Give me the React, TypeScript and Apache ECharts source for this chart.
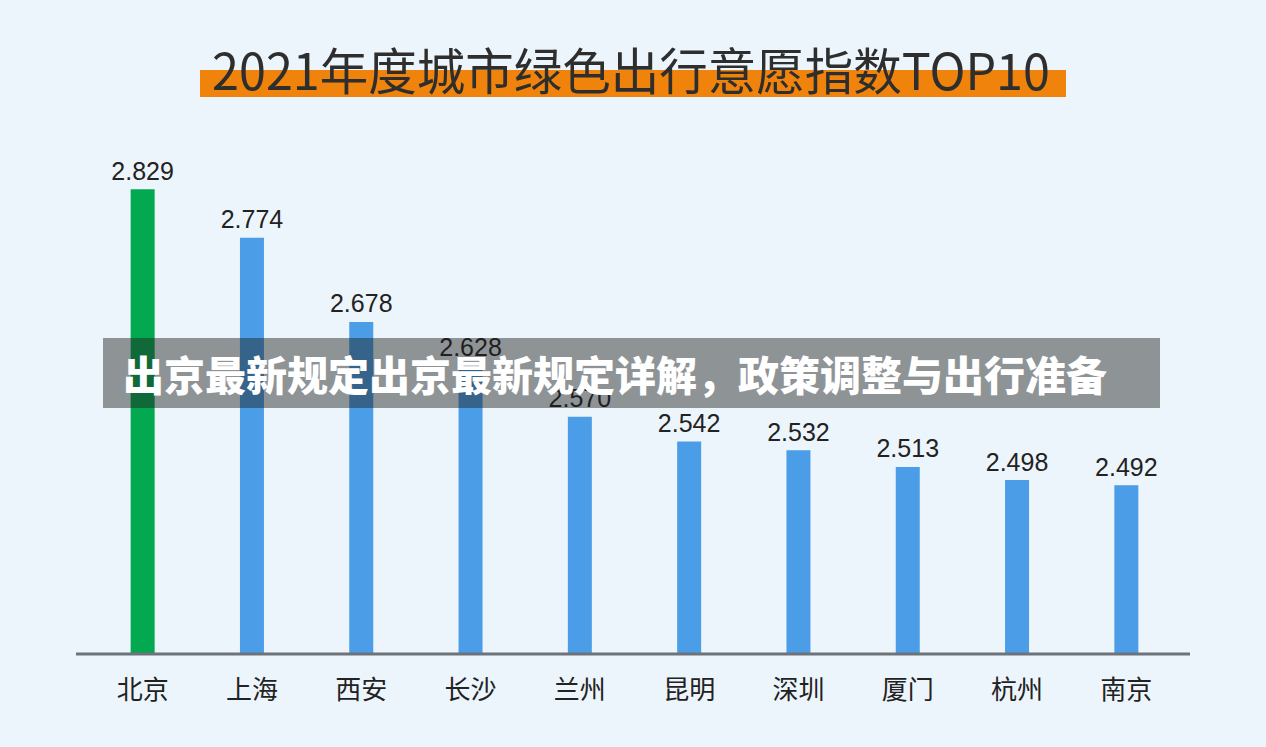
import React, { useEffect, useRef } from "react";
import * as echarts from "echarts";

const cities = ["北京", "上海", "西安", "长沙", "兰州", "昆明", "深圳", "厦门", "杭州", "南京"];
const values = [2.829, 2.774, 2.678, 2.628, 2.57, 2.542, 2.532, 2.513, 2.498, 2.492];
const title = "2021年度城市绿色出行意愿指数TOP10";
const banner = "出京最新规定出京最新规定详解，政策调整与出行准备";

export default function App() {
  const ref = useRef<HTMLDivElement>(null);
  useEffect(() => {
    const chart = echarts.init(ref.current!, null, { renderer: "svg" });
    chart.setOption({
      animation: false,
      backgroundColor: "#edf5fc",
      grid: { left: 88, right: 85, top: 127, bottom: 93, containLabel: false },
      xAxis: {
        type: "category",
        data: cities,
        axisLine: { show: false },
        axisTick: { show: false },
        axisLabel: {
          color: "#222",
          fontSize: 26,
          fontFamily: "Noto Sans CJK SC",
          margin: 20,
        },
      },
      yAxis: {
        type: "value",
        min: 2.3,
        max: 2.9,
        show: false,
        splitLine: { show: false },
      },
      series: [
        {
          type: "bar",
          barWidth: 24,
          data: values.map((v, i) => ({
            value: v,
            itemStyle: { color: i === 0 ? "#02a950" : "#4a9de6" },
          })),
          label: {
            show: true,
            position: "top",
            distance: 6,
            color: "#222",
            fontSize: 25,
            fontFamily: "Liberation Sans",
            formatter: (p: any) => p.value.toFixed(3),
          },
        },
      ],
      graphic: [
        {
          type: "line",
          shape: { x1: 76, y1: 654, x2: 1190, y2: 654 },
          style: { stroke: "#6e7378", lineWidth: 3 },
          z: 10,
        },
        {
          type: "rect",
          shape: { x: 200, y: 70, width: 866, height: 27 },
          style: { fill: "#ef830c" },
          z: 1,
        },
        {
          type: "text",
          x: 631,
          y: 68,
          scaleX: 0.97,
          z: 2,
          style: {
            text: title,
            fill: "#2e2e2e",
            fontSize: 50,
            fontFamily: "Noto Sans CJK SC",
            fontWeight: "normal",
            align: "center",
            verticalAlign: "middle",
          },
        },
        {
          type: "rect",
          shape: { x: 103, y: 338, width: 1057, height: 70 },
          style: { fill: "rgba(30,30,30,0.46)" },
          z: 50,
        },
        {
          type: "text",
          x: 615,
          y: 373,
          z: 51,
          style: {
            text: banner,
            fill: "#ffffff",
            fontSize: 41,
            fontFamily: "Noto Sans CJK SC",
            fontWeight: 900,
            align: "center",
            verticalAlign: "middle",
          },
        },
      ],
    });
    return () => chart.dispose();
  }, []);
  return <div ref={ref} style={{ position: "fixed", left: 0, top: 0, width: 1266, height: 747 }} />;
}
